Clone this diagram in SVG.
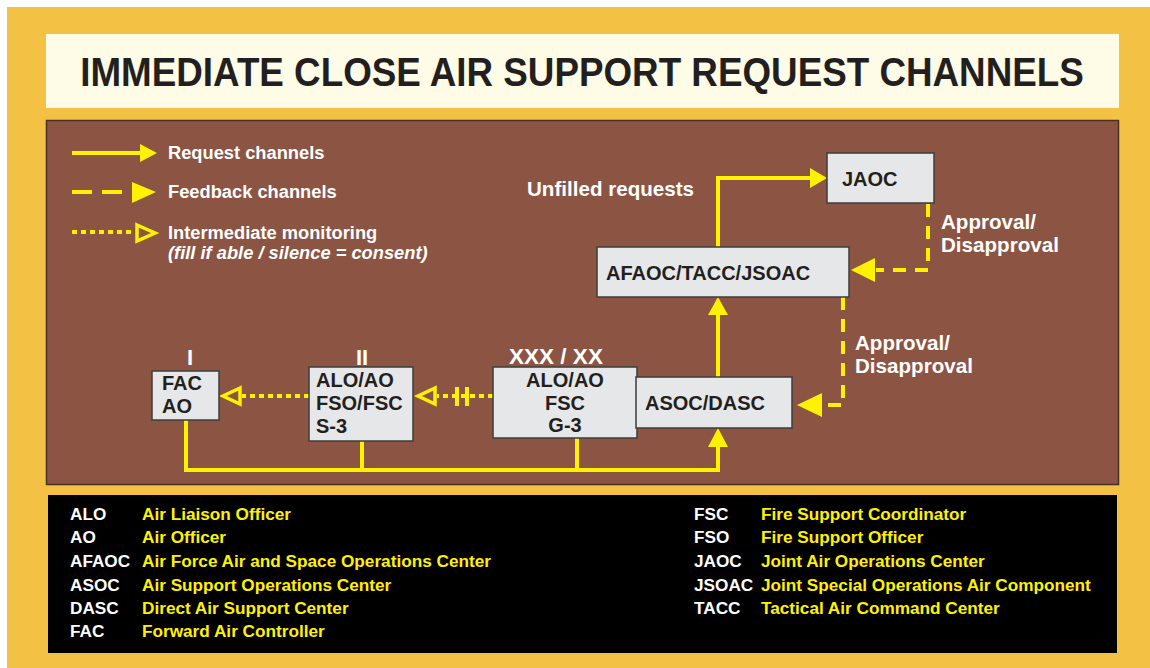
<svg xmlns="http://www.w3.org/2000/svg" width="1150" height="668" viewBox="0 0 1150 668">
<defs>
<style>
.node rect{fill:#e6e7e8;stroke:#3c3c3c;stroke-width:1.5}
.nt{font-family:"Liberation Sans",Arial,sans-serif;font-weight:bold;fill:#231f20;font-size:20px}
.wt{font-family:"Liberation Sans",Arial,sans-serif;font-weight:bold;fill:#ffffff}
.req{fill:none;stroke:#fff200;stroke-width:4}
.fb{fill:none;stroke:#fff200;stroke-width:4;stroke-dasharray:13 9}
.mon{fill:none;stroke:#fff200;stroke-width:4;stroke-dasharray:5 4}
.head{fill:#fff200}
.ohead{fill:none;stroke:#fff200;stroke-width:3.5;stroke-linejoin:miter}
.ab{font-family:"Liberation Sans",Arial,sans-serif;font-weight:bold;font-size:17.2px;fill:#ffffff}
.ds{font-family:"Liberation Sans",Arial,sans-serif;font-weight:bold;font-size:17.2px;fill:#fff200}
</style>
</defs>
<rect x="0" y="0" width="1150" height="668" fill="#ffffff"/>
<rect x="7" y="7" width="1143" height="661" fill="#f3c143"/>
<rect x="46" y="34" width="1073" height="74" fill="#fefbe6"/>
<text transform="translate(582,86) scale(0.92,1)" x="0" y="0" text-anchor="middle" font-family="'Liberation Sans',Arial,sans-serif" font-weight="bold" font-size="40" fill="#231f20">IMMEDIATE CLOSE AIR SUPPORT REQUEST CHANNELS</text>
<rect x="46.5" y="120.5" width="1072" height="364" fill="#8c5543" stroke="#4a3024" stroke-width="1.5"/>

<g id="legend">
<line x1="72" y1="153" x2="141" y2="153" class="req"/>
<polygon points="140,144 157,153 140,162" class="head"/>
<text x="168" y="159" class="wt" font-size="18.3">Request channels</text>
<line x1="72" y1="192" x2="92" y2="192" class="req"/>
<line x1="102" y1="192" x2="122" y2="192" class="req"/>
<polygon points="132,182 156,192 132,203" class="head"/>
<text x="168" y="198" class="wt" font-size="18.3">Feedback channels</text>
<line x1="72" y1="232" x2="134" y2="232" class="mon"/>
<polygon points="137,225 155,233 137,241" class="ohead"/>
<text x="168" y="239" class="wt" font-size="18.3">Intermediate monitoring</text>
<text x="168" y="259" class="wt" font-size="18.3" font-style="italic">(fill if able / silence = consent)</text>
</g>

<g id="connectors">
<path d="M186,420 V470 H718 V446" class="req"/>
<line x1="362" y1="441" x2="362" y2="470" class="req"/>
<line x1="577" y1="438" x2="577" y2="470" class="req"/>
<polygon points="708,447 718,428 728,447" class="head"/>
<line x1="718" y1="377" x2="718" y2="314" class="req"/>
<polygon points="708,315 718,297 728,315" class="head"/>
<path d="M718,247 V178 H811" class="req"/>
<polygon points="810,168 827,178 810,188" class="head"/>
<path d="M928,204 V270 H876" class="fb"/>
<polygon points="875,258 851,270 875,282" class="head"/>
<path d="M843,297 V405 H822" class="fb"/>
<polygon points="822,393 797,405 822,417" class="head"/>
<line x1="493" y1="396" x2="437" y2="396" class="mon"/>
<rect x="455" y="387" width="4" height="19" fill="#fff200"/>
<rect x="465" y="387" width="4" height="19" fill="#fff200"/>
<polygon points="435,388 418,396 435,404" class="ohead"/>
<line x1="309" y1="396" x2="242" y2="396" class="mon"/>
<polygon points="240,388 223,396 240,404" class="ohead"/>
<text x="527" y="196" class="wt" font-size="20.6">Unfilled requests</text>
<text x="941" y="229" class="wt" font-size="20.6">Approval/</text>
<text x="941" y="252" class="wt" font-size="20.6">Disapproval</text>
<text x="855" y="350" class="wt" font-size="20.6">Approval/</text>
<text x="855" y="373" class="wt" font-size="20.6">Disapproval</text>
</g>

<g id="echelon-labels">
<text x="190" y="365" class="wt" font-size="22" text-anchor="middle">I</text>
<text x="362" y="365" class="wt" font-size="22" text-anchor="middle">II</text>
<text x="556" y="364" class="wt" font-size="22.5" text-anchor="middle">XXX / XX</text>
</g>

<g id="node-fac" class="node">
<rect x="152" y="371" width="67" height="49"/>
<text x="162" y="390" class="nt">FAC</text>
<text x="162" y="413" class="nt">AO</text>
</g>
<g id="node-bn" class="node">
<rect x="309" y="367" width="104" height="74"/>
<text x="316" y="387" class="nt">ALO/AO</text>
<text x="316" y="410" class="nt">FSO/FSC</text>
<text x="316" y="433" class="nt">S-3</text>
</g>
<g id="node-corps" class="node">
<rect x="493" y="367" width="144" height="71"/>
<text x="565" y="387" class="nt" text-anchor="middle">ALO/AO</text>
<text x="565" y="410" class="nt" text-anchor="middle">FSC</text>
<text x="565" y="432" class="nt" text-anchor="middle">G-3</text>
</g>
<g id="node-asoc" class="node">
<rect x="636" y="377" width="156" height="51"/>
<text x="645" y="410" class="nt" font-size="21">ASOC/DASC</text>
</g>
<g id="node-afaoc" class="node">
<rect x="597" y="247" width="252" height="50"/>
<text x="606" y="280" class="nt" font-size="21">AFAOC/TACC/JSOAC</text>
</g>
<g id="node-jaoc" class="node">
<rect x="827" y="153" width="107" height="50"/>
<text x="842" y="186" class="nt" font-size="23.5">JAOC</text>
</g>

<g id="glossary">
<rect x="48" y="495" width="1069" height="158" fill="#000000"/>
<text x="70" y="520" class="ab">ALO</text><text x="142" y="520" class="ds">Air Liaison Officer</text>
<text x="70" y="543" class="ab">AO</text><text x="142" y="543" class="ds">Air Officer</text>
<text x="70" y="567" class="ab">AFAOC</text><text x="142" y="567" class="ds">Air Force Air and Space Operations Center</text>
<text x="70" y="591" class="ab">ASOC</text><text x="142" y="591" class="ds">Air Support Operations Center</text>
<text x="70" y="614" class="ab">DASC</text><text x="142" y="614" class="ds">Direct Air Support Center</text>
<text x="70" y="637" class="ab">FAC</text><text x="142" y="637" class="ds">Forward Air Controller</text>
<text x="694" y="520" class="ab">FSC</text><text x="761" y="520" class="ds">Fire Support Coordinator</text>
<text x="694" y="543" class="ab">FSO</text><text x="761" y="543" class="ds">Fire Support Officer</text>
<text x="694" y="567" class="ab">JAOC</text><text x="761" y="567" class="ds">Joint Air Operations Center</text>
<text x="694" y="591" class="ab">JSOAC</text><text x="761" y="591" class="ds">Joint Special Operations Air Component</text>
<text x="694" y="614" class="ab">TACC</text><text x="761" y="614" class="ds">Tactical Air Command Center</text>
</g>
</svg>
